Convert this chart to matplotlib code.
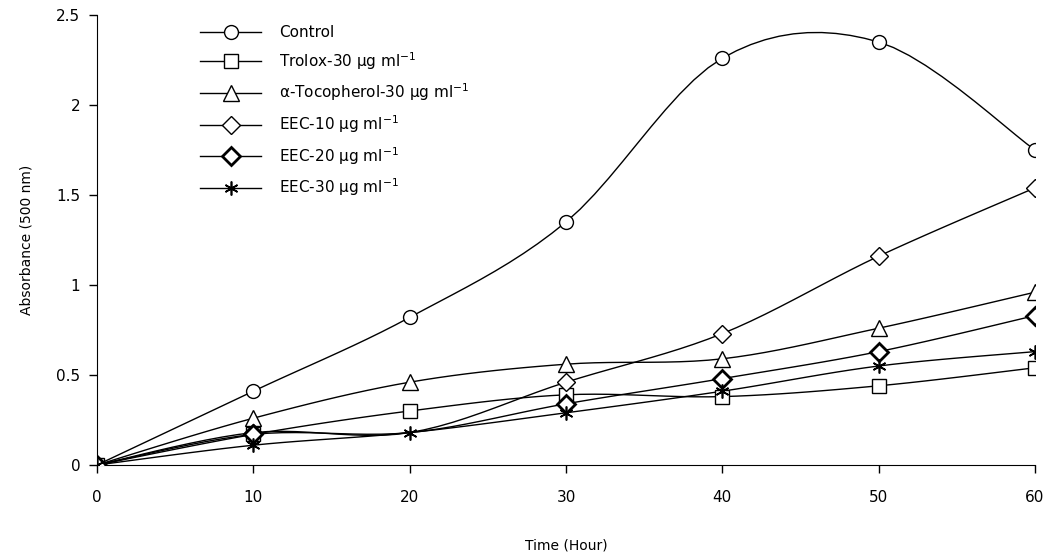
import numpy as np
import matplotlib.pyplot as plt

# =========================
# data
# =========================
hours = [0, 10, 20, 30, 40, 50, 60]

control = [0.0, 0.41, 0.82, 1.35, 2.26, 2.35, 1.75]
trolox = [0.0, 0.17, 0.30, 0.39, 0.38, 0.44, 0.54]
tocopherol = [0.0, 0.26, 0.46, 0.56, 0.59, 0.76, 0.96]
eec10 = [0.0, 0.18, 0.18, 0.46, 0.73, 1.16, 1.54]
eec20 = [0.0, 0.17, 0.18, 0.34, 0.48, 0.63, 0.83]
eec30 = [0.0, 0.11, 0.18, 0.29, 0.41, 0.55, 0.63]

labels = [
    "Control",
    "Trolox-30 µg ml$^{-1}$",
    "α-Tocopherol-30 µg ml$^{-1}$",
    "EEC-10 µg ml$^{-1}$",
    "EEC-20 µg ml$^{-1}$",
    "EEC-30 µg ml$^{-1}$",
]


# smoothed line like a spreadsheet "smoothed line" chart
def smooth(x, y, n=12):
    x = np.asarray(x, float)
    y = np.asarray(y, float)
    px = np.concatenate([[x[0]], x, [x[-1]]])
    py = np.concatenate([[y[0]], y, [y[-1]]])
    xs, ys = [], []
    t = np.linspace(0, 1, n)
    for i in range(1, len(px) - 2):
        p0 = np.array([px[i - 1], py[i - 1]])
        p1 = np.array([px[i], py[i]])
        p2 = np.array([px[i + 1], py[i + 1]])
        p3 = np.array([px[i + 2], py[i + 2]])
        c1 = p1 + (p2 - p0) / 6
        c2 = p2 - (p3 - p1) / 6
        b = ((1 - t) ** 3)[:, None] * p1 + (3 * (1 - t) ** 2 * t)[:, None] * c1 \
            + (3 * (1 - t) * t ** 2)[:, None] * c2 + (t ** 3)[:, None] * p2
        xs.extend(b[:, 0])
        ys.extend(b[:, 1])
    return xs, ys


plt.rcParams['font.family'] = ['DejaVu Sans']

fig = plt.figure(figsize=(10.5, 5.54), dpi=100)
ax = fig.add_axes([97 / 1050, 1 - 465 / 554, 938 / 1050, 450 / 554])

series = [control, trolox, tocopherol, eec10, eec20, eec30]
markers = ["o", "s", "^", "D", "D", (6, 2, 0)]
msizes = [10, 10, 12, 9, 9, 10]
mews = [1.0, 1.0, 1.0, 1.0, 2.0, 1.2]
marks = [None, None, None, [0, 1, 3, 4, 5, 6], [0, 1, 3, 4, 5, 6], None]

handles = []
for vals, m, ms, mew, me in zip(series, markers, msizes, mews, marks):
    sx, sy = smooth(hours, vals)
    ax.plot(sx, sy, color="black", lw=1.0, zorder=2)
    idx = me if me is not None else range(len(hours))
    ax.plot([hours[i] for i in idx], [vals[i] for i in idx], ls="none",
            marker=m, ms=ms, mfc="white", mec="black", mew=mew, zorder=3)
    h, = ax.plot([], [], color="black", lw=1.0, marker=m, ms=ms,
                 mfc="white", mec="black", mew=mew)
    handles.append(h)

ax.set_xlim(0, 60)
ax.set_ylim(0, 2.5)
ax.set_xticks([0, 10, 20, 30, 40, 50, 60])
ax.set_yticks([0, 0.5, 1, 1.5, 2, 2.5])
ax.set_yticklabels(["0", "0.5", "1", "1.5", "2", "2.5"])
ax.tick_params(labelsize=11, length=6, width=1, direction="out")
ax.tick_params(axis="x", pad=12)
ax.tick_params(axis="y", pad=6)
for s in ["top", "right"]:
    ax.spines[s].set_visible(False)

ax.set_xlabel("Time (Hour)", fontsize=10, labelpad=24)
ax.set_ylabel("Absorbance (500 nm)", fontsize=10, labelpad=16)

fig.legend(handles, labels, loc="upper left",
           bbox_to_anchor=(200 / 1050, 1 - 25 / 554), frameon=False,
           fontsize=11, handlelength=4, handletextpad=1.2,
           labelspacing=0.65, borderpad=0, borderaxespad=0)

fig.savefig("out.png", dpi=100)
